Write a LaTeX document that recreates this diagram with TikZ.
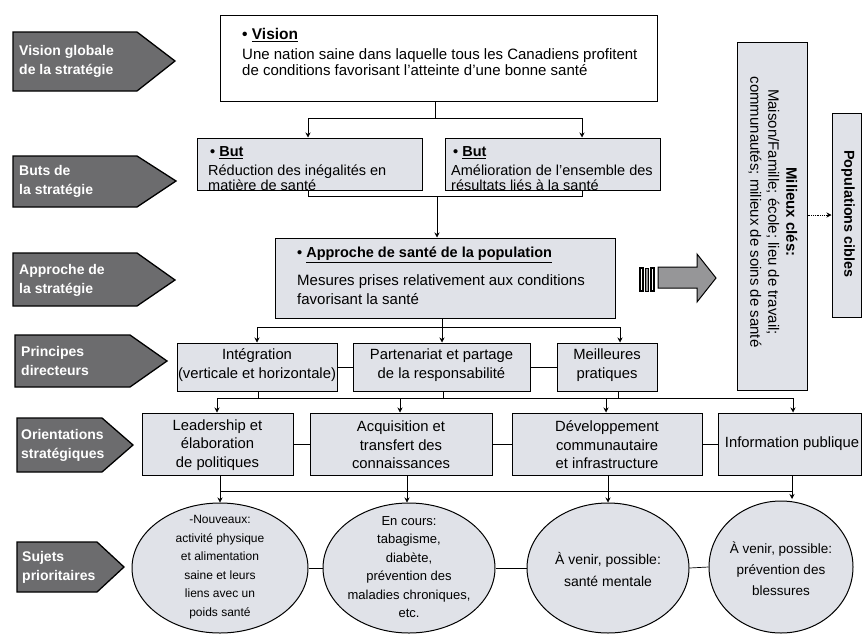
\documentclass[tikz,border=0pt]{standalone}
\usepackage{fontspec}
\setmainfont{Liberation Sans}
\usetikzlibrary{arrows.meta,shapes.geometric}
\definecolor{boxfill}{RGB}{224,226,232}
\definecolor{labfill}{RGB}{108,108,110}
\definecolor{bigarrow}{RGB}{150,150,152}
\begin{document}
\begin{tikzpicture}[x=1pt,y=-1pt,
  box/.style={draw=black, line width=1pt, fill=boxfill, rectangle, inner sep=0pt},
  whitebox/.style={draw=black, line width=1pt, fill=white, rectangle, inner sep=0pt},
  ell/.style={draw=black, line width=1pt, fill=boxfill, ellipse, inner sep=0pt},
  labshape/.style={draw=black, line width=1.3pt, fill=labfill},
  labtext/.style={text=white, font=\bfseries\fontsize{14}{19}\selectfont, align=left, anchor=west, inner sep=0pt},
  hd/.style={font=\bfseries\fontsize{14.5}{16}\selectfont, anchor=west, inner sep=0pt},
  bodyl/.style={font=\fontsize{15}{16}\selectfont, align=left, anchor=west, inner sep=0pt},
  ctext/.style={font=\fontsize{14.8}{19}\selectfont, align=center, inner sep=0pt},
  etext/.style={font=\fontsize{12}{18.5}\selectfont, align=center, inner sep=0pt},
  conn/.style={line width=0.7pt},
  arr/.style={conn, -{Stealth[length=5pt,width=5pt]}},
  dotarr/.style={line width=0.8pt, densely dotted, -{Stealth[length=5pt,width=5pt]}}
]
\useasboundingbox (0,0) rectangle (862,635);

% ---------- left labels ----------
\draw[labshape] (13,32) -- (137,32) -- (175,61) -- (137,91) -- (13,91) -- cycle;
\node[labtext] (l1) at (19,61) {Vision globale\\de la stratégie};
\draw[labshape] (13,156) -- (137,156) -- (176,181) -- (137,207) -- (13,207) -- cycle;
\node[labtext] (l2) at (19,181) {Buts de\\la stratégie};
\draw[labshape] (13,253) -- (137,253) -- (175,280) -- (137,306) -- (13,306) -- cycle;
\node[labtext] (l3) at (19,280) {Approche de\\la stratégie};
\draw[labshape] (15,335) -- (130,335) -- (167,361) -- (130,387) -- (15,387) -- cycle;
\node[labtext] (l4) at (21,361) {Principes\\directeurs};
\draw[labshape] (17,418) -- (102,418) -- (133,445) -- (102,472) -- (17,472) -- cycle;
\node[labtext] (l5) at (21,445) {Orientations\\stratégiques};
\draw[labshape] (17,542) -- (97,542) -- (124,567) -- (97,592) -- (17,592) -- cycle;
\node[labtext] (l6) at (22,567) {Sujets\\prioritaires};

% ---------- vision ----------
\node[whitebox, minimum width=437pt, minimum height=86pt] (vision) at (438.5,58) {};
\node[hd, font=\bfseries\fontsize{15.5}{16}\selectfont] (visionh) at (242,35) {\textbullet\ \underline{Vision}};
\node[bodyl] (visiont) at (242,62) {Une nation saine dans laquelle tous les Canadiens profitent\\de conditions favorisant l'atteinte d'une bonne santé};

% ---------- goals ----------
\node[box, minimum width=225pt, minimum height=52pt] (goal1) at (309.5,164) {};
\node[hd] (goal1h) at (210,153) {\textbullet\ \underline{But}};
\node[bodyl, font=\fontsize{14.5}{14.5}\selectfont] (goal1t) at (208,177.5) {Réduction des inégalités en\\matière de  santé};
\node[box, minimum width=215pt, minimum height=52pt] (goal2) at (552.5,164) {};
\node[hd] (goal2h) at (453,153) {\textbullet\ \underline{But}};
\node[bodyl, font=\fontsize{14.5}{14.5}\selectfont] (goal2t) at (451,177.5) {Amélioration de l'ensemble des\\résultats liés à la santé};

% ---------- approach ----------
\node[box, minimum width=340pt, minimum height=80pt] (appr) at (445,278) {};
\node[hd] (apprh) at (297,255) {\textbullet\ \underline{Approche de santé de la population}};
\node[bodyl, font=\fontsize{15}{19}\selectfont] (apprt) at (297,289.5) {Mesures prises relativement aux conditions\\favorisant la santé};

% ---------- big arrow ----------
\filldraw[fill=white, draw=black, line width=1.2pt] (640,268) rectangle (643,291);
\filldraw[fill=bigarrow, draw=black, line width=0.8pt] (645.5,268) rectangle (648.5,291);
\filldraw[fill=white, draw=black, line width=1.2pt] (651,268) rectangle (654,291);
\filldraw[fill=bigarrow, draw=black, line width=1pt] (658,267) -- (697,267) -- (697,254) -- (716,278) -- (697,302) -- (697,288) -- (658,288) -- cycle;

% ---------- right column ----------
\node[box, minimum width=70pt, minimum height=348pt] (mil) at (772,216) {};
\node[rotate=-90, font=\fontsize{15}{18}\selectfont, align=center, inner sep=0pt] (milt) at (773,212)
  {\textbf{Milieux clés:}\\Maison/Famille; école; lieu de travail;\\communautés; milieux de soins de santé};
\node[box, minimum width=29pt, minimum height=204pt] (pop) at (846.5,215) {};
\node[rotate=-90, font=\bfseries\fontsize{14.4}{15}\selectfont, inner sep=0pt] (popt) at (848,214) {Populations cibles};
\draw[dotarr] (mil.east |- pop.west) -- (pop.west);

% ---------- principles ----------
\node[box, minimum width=160pt, minimum height=48pt] (p1) at (257,367) {};
\node[ctext] (p1t) at (257,365) {Intégration\\(verticale et horizontale)};
\node[box, minimum width=177pt, minimum height=48pt] (p2) at (441.5,367) {};
\node[ctext] (p2t) at (441.5,365) {Partenariat et partage\\de la responsabilité};
\node[box, minimum width=100pt, minimum height=48pt] (p3) at (607,367) {};
\node[ctext] (p3t) at (607,365) {Meilleures\\pratiques};
\draw[conn] (p1.east) -- (p2.west);
\draw[conn] (p2.east) -- (p3.west);

% ---------- orientations ----------
\node[box, minimum width=151pt, minimum height=62pt] (o1) at (217.5,444) {};
\node[ctext, font=\fontsize{14.8}{18.5}\selectfont] (o1t) at (217.5,445) {Leadership et\\élaboration\\de politiques};
\node[box, minimum width=182pt, minimum height=62pt] (o2) at (401,444) {};
\node[ctext, font=\fontsize{14.8}{18.5}\selectfont] (o2t) at (401,445) {Acquisition et\\transfert des\\connaissances};
\node[box, minimum width=190pt, minimum height=62pt] (o3) at (607,444) {};
\node[ctext, font=\fontsize{14.8}{18.5}\selectfont] (o3t) at (607,445) {Développement\\communautaire\\et infrastructure};
\node[box, minimum width=143pt, minimum height=62pt] (o4) at (789.5,444) {};
\node[ctext, font=\fontsize{14.8}{18.5}\selectfont] (o4t) at (792,444) {Information publique};
\draw[conn] (o1.east) -- (o2.west);
\draw[conn] (o2.east) -- (o3.west);
\draw[conn] (o3.east) -- (o4.west);

% ---------- ellipses ----------
\node[ell, minimum width=176pt, minimum height=130pt] (e1) at (220,568) {};
\node[etext] (e1t) at (220,567) {-Nouveaux:\\activité physique\\et alimentation\\saine et leurs\\liens avec un\\poids santé};
\node[ell, minimum width=172pt, minimum height=130pt] (e2) at (409,568) {};
\node[etext, font=\fontsize{13}{18.5}\selectfont] (e2t) at (409,567) {En cours:\\tabagisme,\\diabète,\\prévention des\\maladies chroniques,\\etc.};
\node[ell, minimum width=162pt, minimum height=130pt] (e3) at (608,568) {};
\node[etext, font=\fontsize{14}{22}\selectfont] (e3t) at (608,569) {À venir, possible:\\santé mentale};
\node[ell, minimum width=144pt, minimum height=132pt] (e4) at (781,567) {};
\node[etext, font=\fontsize{13.5}{21}\selectfont] (e4t) at (781,569) {À venir, possible:\\prévention des\\blessures};
\draw[conn] (e1.east) -- (e2.west);
\draw[conn] (e2.east) -- (e3.west);
\draw[conn] (e3.east) -- (e4.west);

% ---------- connectors: vision -> goals ----------
\coordinate (vb) at (435,118);
\coordinate (gL) at (308,118);
\coordinate (gR) at (582,118);
\draw[conn] (vision.south -| vb) -- (vb);
\draw[conn] (gL) -- (gR);
\draw[arr] (gL) -- (gL |- goal1.north);
\draw[arr] (gR) -- (gR |- goal2.north);

% goals -> approach
\coordinate (hL) at (308,196);
\coordinate (hR) at (582,196);
\coordinate (hm) at (437,196);
\draw[conn] (goal1.south -| hL) -- (hL) -- (hR) -- (goal2.south -| hR);
\draw[arr] (hm) -- (hm |- appr.north);

% approach -> principles
\coordinate (pm) at (442,327);
\coordinate (pL) at (257,327);
\coordinate (pR) at (620,327);
\draw[conn] (appr.south -| pm) -- (pm);
\draw[conn] (pL) -- (pR);
\draw[arr] (pL) -- (pL |- p1.north);
\draw[arr] (pm) -- (pm |- p2.north);
\draw[arr] (pR) -- (pR |- p3.north);

% principles -> orientations
\coordinate (q1) at (258,398);
\coordinate (q2) at (443,398);
\coordinate (q3) at (618,398);
\coordinate (r1) at (217,398);
\coordinate (r2) at (400,398);
\coordinate (r3) at (606,398);
\coordinate (r4) at (793,398);
\draw[conn] (p1.south -| q1) -- (q1);
\draw[conn] (p2.south -| q2) -- (q2);
\draw[conn] (p3.south -| q3) -- (q3);
\draw[conn] (r1) -- (r4);
\draw[arr] (r1) -- (r1 |- o1.north);
\draw[arr] (r2) -- (r2 |- o2.north);
\draw[arr] (r3) -- (r3 |- o3.north);
\draw[arr] (r4) -- (r4 |- o4.north);

% orientations -> ellipses
\coordinate (s1) at (220,491);
\coordinate (s2) at (407,491);
\coordinate (s3) at (608,491);
\coordinate (s4) at (792,491);
\draw[conn] (s1) -- (s4);
\draw[arr] (o1.south -| s1) -- (e1.north);
\draw[arr] (o2.south -| s2) -- (s2 |- e2.north);
\draw[arr] (o3.south -| s3) -- (e3.north);
\draw[arr] (o4.south -| s4) -- ([yshift=1.5pt]s4 |- e4.north);
\end{tikzpicture}
\end{document}
